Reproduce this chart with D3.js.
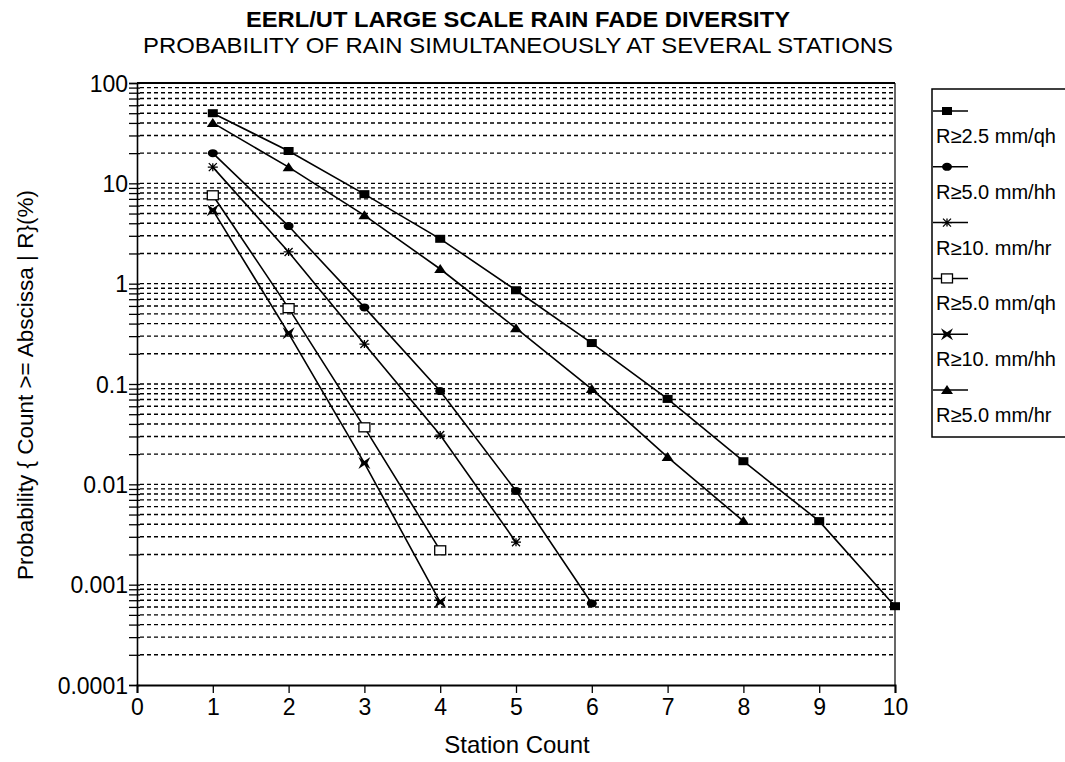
<!DOCTYPE html>
<html><head><meta charset="utf-8">
<script src="https://cdn.jsdelivr.net/npm/d3@7"></script>
<style>body{margin:0;background:#fff}svg{display:block}text{font-family:"Liberation Sans",Arial,sans-serif;fill:#000}</style>
</head><body><div id="chart"></div>
<script>
const title = "EERL/UT LARGE SCALE RAIN FADE DIVERSITY";
const subtitle = "PROBABILITY OF RAIN SIMULTANEOUSLY AT SEVERAL STATIONS";
const xLabel = "Station Count";
const yLabel = "Probability { Count >= Abscissa | R}(%)";
const xTicks = [0,1,2,3,4,5,6,7,8,9,10];
const yTickValues = [0.0001,0.001,0.01,0.1,1,10,100];
const yTickLabels = ["0.0001","0.001","0.01","0.1","1","10","100"];

const seriesNames = ["R\u22652.5 mm/qh","R\u22655.0 mm/hh","R\u226510. mm/hr","R\u22655.0 mm/qh","R\u226510. mm/hh","R\u22655.0 mm/hr"];
const seriesMarkers = ["square","circle","asterisk","openSquare","bowtie","triangle"];
const s_2_5qh = [[1,50],[2,21],[3,7.8],[4,2.8],[5,0.86],[6,0.256],[7,0.071],[8,0.017],[9,0.0043],[10,0.00061]];
const s_5_0hh = [[1,20],[2,3.75],[3,0.58],[4,0.085],[5,0.0086],[6,0.00065]];
const s_10hr  = [[1,14.5],[2,2.07],[3,0.25],[4,0.031],[5,0.00265]];
const s_5_0qh = [[1,7.6],[2,0.57],[3,0.037],[4,0.0022]];
const s_10hh  = [[1,5.4],[2,0.32],[3,0.0163],[4,0.00067]];
const s_5_0hr = [[1,40],[2,14.5],[3,4.8],[4,1.4],[5,0.36],[6,0.089],[7,0.0187],[8,0.0043]];
const seriesData = [s_2_5qh,s_5_0hh,s_10hr,s_5_0qh,s_10hh,s_5_0hr];

const W=1065,H=762;
const svg=d3.select("#chart").append("svg").attr("width",W).attr("height",H);
const x=d3.scaleLinear().domain([0,10]).range([137,895]);
const y=d3.scaleLog().domain([1e-4,100]).range([685,83]);

// gridlines
const minor=[];
for(let e=-4;e<2;e++){for(let m=1;m<=9;m++){minor.push(m*Math.pow(10,e));}}
minor.push(100);
svg.append("g").selectAll("line").data(minor.filter(v=>v>1e-4&&v<100)).join("line")
 .attr("x1",x(0)+3).attr("x2",x(10)-2).attr("y1",d=>y(d)).attr("y2",d=>y(d))
 .attr("stroke","#000").attr("stroke-width",1.4).attr("stroke-dasharray","4,3");

// frame top and right
svg.append("line").attr("x1",x(0)).attr("x2",x(10)).attr("y1",y(100)).attr("y2",y(100)).attr("stroke","#000").attr("stroke-width",1.8);
svg.append("line").attr("x1",x(10)).attr("x2",x(10)).attr("y1",y(100)).attr("y2",y(1e-4)).attr("stroke","#000").attr("stroke-width",1.2);

// y axis
const yAxis=d3.axisLeft(y).tickValues(minor).tickSize(8).tickFormat(d=>{const i=yTickValues.findIndex(v=>Math.abs(v-d)/v<1e-6);return i>=0?yTickLabels[i]:"";});
const gy=svg.append("g").attr("transform",`translate(${x(0)},0)`).call(yAxis);
gy.attr("font-family",null).attr("font-size",null);
gy.select(".domain").attr("stroke-width",1.6);
gy.selectAll(".tick line").attr("x2",-8).attr("x1",3).attr("stroke-width",1.3);
gy.selectAll(".tick text").attr("font-size",23).attr("x",-9).attr("dy","0.36em");

// x axis
const xAxis=d3.axisBottom(x).tickValues(xTicks).tickSize(8).tickFormat(d3.format("d"));
const gx=svg.append("g").attr("transform",`translate(0,${y(1e-4)})`).call(xAxis);
gx.attr("font-family",null).attr("font-size",null);
gx.select(".domain").attr("stroke-width",2);
gx.selectAll(".tick line").attr("stroke-width",1.3);
gx.selectAll(".tick text").attr("font-size",23).attr("y",14).attr("dy","0.71em");

// titles
svg.append("text").attr("x",518).attr("y",27).attr("text-anchor","middle").attr("font-size",22).attr("font-weight","bold")
  .attr("textLength",544).attr("lengthAdjust","spacingAndGlyphs").text(title);
svg.append("text").attr("x",518).attr("y",53).attr("text-anchor","middle").attr("font-size",22)
  .attr("textLength",750).attr("lengthAdjust","spacingAndGlyphs").text(subtitle);
svg.append("text").attr("x",517).attr("y",753).attr("text-anchor","middle").attr("font-size",24).text(xLabel);
svg.append("text").attr("transform","translate(33,385) rotate(-90)").attr("text-anchor","middle").attr("font-size",22.5).text(yLabel);

// markers
function marker(g,type,cx,cy){
  if(type==="square") g.append("rect").attr("x",cx-5).attr("y",cy-4).attr("width",10).attr("height",8).attr("fill","#000");
  else if(type==="circle") g.append("ellipse").attr("cx",cx).attr("cy",cy).attr("rx",5).attr("ry",4).attr("fill","#000");
  else if(type==="asterisk"){
    g.append("path").attr("d",`M${cx-5},${cy}H${cx+5}M${cx-4},${cy-4}L${cx+4},${cy+4}M${cx-4},${cy+4}L${cx+4},${cy-4}M${cx},${cy-4}V${cy+4}`).attr("stroke","#000").attr("stroke-width",1.3);
  }
  else if(type==="openSquare") g.append("rect").attr("x",cx-5.5).attr("y",cy-4.5).attr("width",11).attr("height",9).attr("fill","#fff").attr("stroke","#000").attr("stroke-width",1.3);
  else if(type==="bowtie") g.append("path").attr("d",`M${cx-6},${cy-6}L${cx},${cy-2}L${cx+6},${cy-6}L${cx+3},${cy}L${cx+6},${cy+6}L${cx},${cy+2}L${cx-6},${cy+6}L${cx-3},${cy}Z`).attr("fill","#000");
  else if(type==="triangle") g.append("path").attr("d",`M${cx},${cy-5}L${cx+6},${cy+4}L${cx-6},${cy+4}Z`).attr("fill","#000");
}
const line=d3.line().x(d=>x(d[0])).y(d=>y(d[1]));
seriesData.forEach((data,i)=>{
  const g=svg.append("g");
  g.append("path").datum(data).attr("d",line).attr("fill","none").attr("stroke","#000").attr("stroke-width",1.6);
  data.forEach(d=>marker(g,seriesMarkers[i],x(d[0]),y(d[1])));
});

// legend
const lg=svg.append("g");
lg.append("rect").attr("x",932).attr("y",89).attr("width",140).attr("height",348).attr("fill","none").attr("stroke","#000").attr("stroke-width",1.5);
seriesNames.forEach((n,i)=>{
  const yy=111+i*55.8;
  lg.append("line").attr("x1",933).attr("x2",968).attr("y1",yy).attr("y2",yy).attr("stroke","#000").attr("stroke-width",1.5);
  marker(lg,seriesMarkers[i],947,yy);
  lg.append("text").attr("x",936).attr("y",yy+32).attr("font-size",20).text(n);
});
</script></body></html>
